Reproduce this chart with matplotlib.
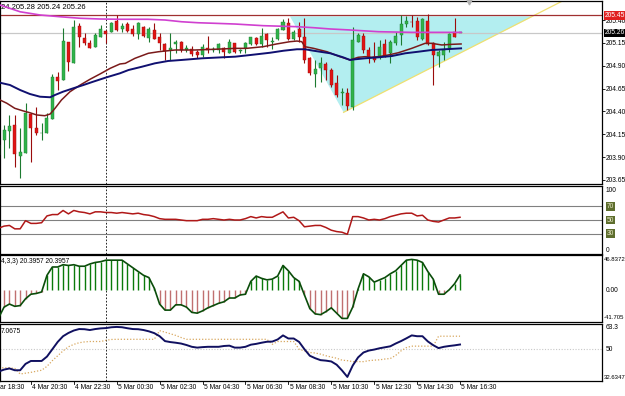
import matplotlib
matplotlib.use('Agg')
import matplotlib.pyplot as plt
import matplotlib.transforms as mtransforms
import numpy as np
import pandas as pd

plt.rcParams['font.family'] = ['Liberation Sans Narrow', 'Liberation Sans', 'DejaVu Sans']
plt.rcParams['font.size'] = 5

# 15 minute bars, 4 Mar 19:00 .. 5 Mar 16:30
times = pd.date_range('2015-03-04 19:00', periods=87, freq='15min')

opens = [203.92, 204.09, 204.19, 204.25, 203.91, 203.95, 204.37, 204.22, 204.16, 204.16,
         204.32, 204.78, 204.74, 205.16, 204.93, 205.33, 205.20, 205.15, 205.10, 205.21,
         205.28, 205.27, 205.39, 205.30, 205.36, 205.30, 205.25, 205.32, 205.20, 205.29,
         205.21, 205.14, 205.07, 205.14, 205.16, 205.07, 205.08, 205.05, 205.02, 205.09,
         205.07, 205.07, 205.09, 205.04, 205.15, 205.06, 205.09, 205.14, 205.20, 205.14,
         205.25, 205.16, 205.19, 205.29, 205.37, 205.19, 205.30, 205.21, 204.98, 204.81,
         204.875, 204.92, 204.85, 204.71, 204.60, 204.60, 204.45, 205.16, 205.23, 205.07,
         205.00, 204.995, 205.14, 205.04, 205.15, 205.24, 205.36, 205.38, 205.39, 205.19,
         205.39, 205.15, 205.01, 205.02, 205.09, 205.27, 205.26]
highs = [204.09, 204.25, 204.36, 204.36, 204.22, 204.49, 204.38, 204.45, 204.27, 204.38,
         204.81, 204.83, 205.31, 205.16, 205.40, 205.37, 205.26, 205.18, 205.26, 205.35,
         205.29, 205.38, 205.45, 205.37, 205.38, 205.35, 205.38, 205.33, 205.32, 205.37,
         205.26, 205.15, 205.26, 205.18, 205.17, 205.13, 205.12, 205.07, 205.14, 205.22,
         205.11, 205.15, 205.11, 205.19, 205.15, 205.08, 205.16, 205.21, 205.21, 205.31,
         205.26, 205.21, 205.31, 205.41, 205.42, 205.29, 205.38, 205.42, 204.995, 204.96,
         204.995, 204.94, 204.875, 204.80, 204.66, 204.66, 205.32, 205.26, 205.26, 205.10,
         205.16, 205.18, 205.19, 205.18, 205.27, 205.455, 205.44, 205.455, 205.43, 205.42,
         205.47, 205.16, 205.07, 205.16, 205.26, 205.42, 205.26]
lows = [203.79, 203.89, 204.00, 203.79, 203.67, 203.95, 203.85, 204.14, 204.09, 204.16,
        204.32, 204.63, 204.74, 204.84, 204.93, 205.10, 205.13, 205.09, 205.10, 205.21,
        205.15, 205.27, 205.28, 205.27, 205.27, 205.23, 205.19, 205.21, 205.16, 205.19,
        205.07, 204.96, 204.96, 205.04, 205.05, 205.05, 205.01, 204.98, 205.00, 205.04,
        205.05, 205.04, 204.98, 205.04, 205.04, 205.04, 205.04, 205.13, 205.13, 205.11,
        205.11, 205.08, 205.18, 205.29, 205.18, 205.18, 205.16, 204.93, 204.80, 204.67,
        204.72, 204.74, 204.67, 204.56, 204.47, 204.42, 204.42, 205.16, 205.04, 204.93,
        204.94, 204.97, 204.995, 204.93, 205.13, 205.13, 205.32, 205.32, 205.18, 205.18,
        205.13, 204.69, 204.89, 204.96, 205.05, 205.21, 205.26]
closes = [204.03, 204.20, 204.24, 203.93, 203.96, 204.38, 204.22, 204.16, 204.165, 204.33,
          204.78, 204.73, 205.17, 204.94, 205.32, 205.21, 205.15, 205.09, 205.24, 205.30,
          205.25, 205.37, 205.29, 205.33, 205.28, 205.25, 205.37, 205.23, 205.30, 205.19,
          205.15, 205.06, 205.09, 205.16, 205.07, 205.09, 205.03, 205.02, 205.11, 205.07,
          205.075, 205.14, 205.05, 205.16, 205.05, 205.065, 205.15, 205.21, 205.14, 205.23,
          205.18, 205.165, 205.30, 205.38, 205.19, 205.27, 205.21, 204.96, 204.82, 204.86,
          204.93, 204.85, 204.69, 204.58, 204.61, 204.46, 205.18, 205.24, 205.07, 205.00,
          204.96, 205.105, 205.01, 205.16, 205.225, 205.36, 205.39, 205.375, 205.21, 205.41,
          205.14, 205.02, 205.05, 205.07, 205.25, 205.21, 205.26]

# moving averages (bar index, price)
ma_fast_x = [0.24, 1.5, 3.0, 4.6, 5.8, 7.1, 8.6, 9.6, 10.5, 11.7, 13.3, 15.2, 17.0, 18.9, 20.8,
             22.6, 23.6, 25.4, 27.9, 29.8, 32.9, 36.6, 40.3, 44.1, 46.2, 49.3, 51.8, 54.3, 55.6,
             56.5, 57.1, 58.7, 61.2, 63.6, 65.5, 67.0, 68.3, 69.5, 70.8, 72.6, 74.5, 77.0, 79.5,
             80.7, 82.6, 84.5, 86.2]
ma_fast_y = [204.525, 204.49, 204.434, 204.405, 204.386, 204.361, 204.353, 204.372, 204.434,
             204.525, 204.616, 204.689, 204.751, 204.81, 204.872, 204.919, 204.926, 204.981,
             205.036, 205.053, 205.072, 205.072, 205.08, 205.09, 205.09, 205.108, 205.138,
             205.163, 205.17, 205.163, 205.108, 205.09, 205.053, 204.999, 204.963, 204.992,
             204.999, 204.992, 204.999, 205.017, 205.042, 205.09, 205.145, 205.145, 205.127,
             205.134, 205.138]
ma_slow_x = [0.24, 2.1, 4.0, 5.8, 7.7, 9.6, 10.5, 12.0, 13.9, 15.8, 17.6, 20.1, 22.6, 24.2,
             26.7, 29.1, 31.6, 34.1, 37.9, 41.6, 44.1, 46.9, 50.6, 53.1, 55.6, 57.1, 58.7,
             61.8, 64.2, 65.5, 66.4, 68.3, 70.8, 73.3, 75.8, 78.2, 80.7, 83.2, 86.2]
ma_slow_y = [204.714, 204.689, 204.634, 204.591, 204.561, 204.555, 204.58, 204.616, 204.653,
             204.689, 204.725, 204.773, 204.817, 204.853, 204.889, 204.926, 204.952, 204.963,
             204.981, 204.992, 204.999, 205.017, 205.042, 205.064, 205.08, 205.08, 205.064,
             205.036, 204.992, 204.963, 204.97, 204.981, 204.992, 205.006, 205.036, 205.053,
             205.072, 205.08, 205.09]
ma_long_x = [0.24, 4.0, 7.7, 11.4, 15.2, 18.9, 22.6, 27.8, 31.0, 34.1, 37.2, 40.3, 44.1, 49.3,
             55.6, 58.7, 61.8, 65.5, 70.8, 77.0, 83.2, 86.2]
ma_long_y = [205.564, 205.49, 205.455, 205.436, 205.419, 205.411, 205.408, 205.408, 205.40,
             205.381, 205.37, 205.364, 205.356, 205.338, 205.327, 205.316, 205.302, 205.291,
             205.272, 205.265, 205.265, 205.265]

resistance = 205.45
bid = 205.26
# triangle object and trend line anchors (bar index, price)
tri_x = [54.3, 64.3, 99.6]
tri_y = [205.44, 204.39, 205.44]
trend_x = [64.3, 105.5]
trend_y = [204.39, 205.62]

rsi = [38, 41, 42, 37, 37, 49, 45, 45, 46, 56,
       58, 58, 64, 59, 64, 62, 61, 59, 62, 62,
       61, 61, 60, 61, 60, 59, 60, 58, 57, 55,
       52, 51, 51, 51, 50, 49, 49, 49, 51, 51,
       52, 51, 50, 51, 50, 50, 52, 55, 53, 55,
       54, 54, 58, 62, 53, 54, 49, 40, 41, 42,
       42, 39, 35, 33, 32, 29, 55, 55, 53, 50,
       51, 50, 52, 55, 57, 59, 60, 60, 56, 57,
       50, 48, 47, 50, 53, 53, 54]
rsi_levels = [70, 50, 30]

osma = [-36, -22, -18, -21, -20, -11, -5, -4, -2, 20,
        31, 31, 34, 33, 34, 32, 32, 35, 37, 38,
        40, 40, 40, 40, 35, 30, 25, 20, 17, 3,
        -18, -26, -26, -19, -19, -22, -29, -30, -27, -23,
        -20, -17, -15, -10, -10, -6, -5, 12, 19, 16,
        14, 15, 19, 33, 26, 17, 12, -6, -24, -31,
        -32, -28, -23, -30, -37, -37, -22, 2, 22, 18,
        11, 14, 17, 22, 26, 33, 40, 41, 40, 37,
        25, 15, -5, -5, 1, 9, 20.3957]
osma_max, osma_min = 46.8372, -41.705

stoch = [36.3, 37.5, 38.2, 37.1, 37.1, 41, 42.8, 42.8, 42.8, 45.5,
         50, 54.5, 58, 60, 61.5, 62.4, 62.3, 61.8, 62.4, 62.8,
         63, 63.5, 63.7, 63.5, 62.9, 62.4, 62.3, 61.8, 61, 59.9,
         58, 55, 54.4, 54, 53.5, 52.6, 51.5, 51, 51.3, 51.5,
         51.5, 51.5, 52, 52.2, 51, 51, 51.5, 52.8, 53.3, 54,
         54.6, 54.7, 56, 58.5, 56.6, 56.6, 54.5, 50, 46, 44.5,
         43.3, 43, 42.5, 40.5, 37, 33, 40, 45, 48, 49.2,
         49.8, 50.6, 51.2, 51.8, 53.5, 55, 56.7, 58.5, 58, 58,
         54.8, 52.5, 50.7, 51.5, 52, 52.4, 52.9]
stoch_sig = [38.6, 38.6, 38.6, 38.2, 34.8, 35.3, 35.8, 36.5, 37.1, 39.5,
             43, 46, 49, 51.5, 53, 54, 54.5, 54.75, 54.75, 54.75,
             55.5, 56, 56.1, 56.1, 56.1, 56.1, 56.1, 56.1, 56.1, 56.1,
             61.4, 60.5, 59.5, 58.5, 57.2, 56.1, 56.1, 56.1, 56.1, 56.1,
             56.1, 56.1, 56.1, 56.1, 56.1, 56.1, 56.1, 56.1, 56.1, 56.1,
             56.1, 53, 54.75, 54.75, 54.75, 54.75, 50, 49, 48, 47.7,
             47, 46, 45.2, 44.5, 43.3, 43, 42.4, 42.4, 42.4, 43,
             43.3, 43.5, 44, 44.3, 46.2, 49, 51, 51.9, 51.9, 51.9,
             51.9, 51.9, 58, 58, 58, 58, 58]

label_times = pd.date_range('2015-03-04 18:30', '2015-03-05 16:30', freq='2h')
day_sep = pd.Timestamp('2015-03-05 00:00')

W, H = 625, 396
fig = plt.figure(figsize=(W / 100, H / 100), dpi=100)
fig.patch.set_facecolor('white')


def rect(top, bottom):
    return [0, (H - bottom) / H, 602 / W, (bottom - top) / H]


ax = fig.add_axes(rect(1, 184))
ax_rsi = fig.add_axes(rect(186, 254))
ax_osc = fig.add_axes(rect(255, 322))
ax_sto = fig.add_axes(rect(324, 381))
axes = [ax, ax_rsi, ax_osc, ax_sto]

bar_w = 15 * 60  # seconds


def bar_index(t):
    return (t - times[0]).total_seconds() / bar_w


xmin, xmax = 0.242, 112.47
for a in axes:
    a.set_xlim(xmin, xmax)
    a.set_xticks([])
    a.set_yticks([])
    for s in a.spines.values():
        s.set_color('black')
        s.set_linewidth(0.9)
    a.axvline(bar_index(day_sep), color='black', ls=(0, (2, 2)), lw=0.6, zorder=1)

x = np.arange(len(opens))
fs = 4.8
fs_small = 4.3

# ---- main price window
o, h, l, c = map(np.array, (opens, highs, lows, closes))
up = c >= o
body_col = np.where(up, '#2fb34a', '#e01414')
edge_col = np.where(up, '#1d7a30', '#9a0c0c')
ax.fill(tri_x, tri_y, color='#b3eef0', lw=0, zorder=0)
ax.plot(trend_x, trend_y, color='#f0e070', lw=0.9, zorder=1)
ax.axhline(resistance, color='#a03030', lw=0.9, zorder=1)
ax.axhline(bid, color='#c8c8c8', lw=0.9, zorder=1)
ax.vlines(x, l, h, colors=edge_col, lw=0.8, zorder=2)
ax.bar(x, np.maximum(np.abs(c - o), 0.008), bottom=np.minimum(o, c), width=0.56,
       color=body_col, edgecolor=edge_col, lw=0.3, zorder=3)
ax.plot(ma_long_x, ma_long_y, color='#d040d0', lw=1.2, zorder=4)
ax.plot(ma_fast_x, ma_fast_y, color='#7a1a1a', lw=1.1, zorder=4)
ax.plot(ma_slow_x, ma_slow_y, color='#101070', lw=1.4, zorder=4)
ax.set_ylim(203.606, 205.608)
ax.yaxis.tick_right()
ax.set_yticks([203.65, 203.90, 204.15, 204.40, 204.65, 204.90, 205.15, 205.40])
ax.set_yticklabels(['%.2f' % v for v in ax.get_yticks()])
ax.tick_params(axis='y', length=2, width=0.6, pad=1, labelsize=fs)
ax.text(0.001, 0.965, '24 205.28 205.24 205.26', transform=ax.transAxes, fontsize=5.5,
        va='center', ha='left')
ax.plot([bar_index(times[-1]) + 1.6], [205.595], marker='v', color='#b0b0b0', ms=3.5,
        clip_on=False, zorder=5)

mix = mtransforms.blended_transform_factory
ax.text(1.004, resistance, '205.45', transform=mix(ax.transAxes, ax.transData), color='white',
        fontsize=fs, va='center', ha='left',
        bbox=dict(facecolor='#e02020', edgecolor='none', pad=0.6), zorder=6)
ax.text(1.004, bid, '205.26', transform=mix(ax.transAxes, ax.transData), color='white',
        fontsize=fs, va='center', ha='left',
        bbox=dict(facecolor='black', edgecolor='none', pad=0.6), zorder=6)

# ---- RSI window
ax_rsi.set_ylim(0, 100)
for lv in rsi_levels:
    ax_rsi.axhline(lv, color='#808080', lw=0.8, zorder=1)
ax_rsi.plot(x, rsi, color='#b01818', lw=1.1, zorder=3)
tr = mix(ax_rsi.transAxes, ax_rsi.transData)
ax_rsi.text(1.006, 94, '100', transform=tr, va='center', ha='left', fontsize=fs)
ax_rsi.text(1.006, 5, '0', transform=tr, va='center', ha='left', fontsize=fs)
for lv in rsi_levels:
    ax_rsi.text(1.008, lv, str(lv), transform=tr, va='center', ha='left', fontsize=fs,
                color='#e8e8c8', bbox=dict(facecolor='#5e6e2e', edgecolor='none', pad=0.5))

# ---- oscillator histogram window
osma_a = np.array(osma)
pos = osma_a >= 0
ax_osc.vlines(x[pos], 0, osma_a[pos], colors='#0a7a0a', lw=1.0, zorder=2)
ax_osc.vlines(x[~pos], 0, osma_a[~pos], colors='#c07070', lw=1.0, zorder=2)
ax_osc.plot(x, osma_a, color='#0b4d0b', lw=1.2, zorder=3)
ax_osc.set_ylim(osma_min, osma_max)
ax_osc.text(0.001, 0.9, '4,3,3) 20.3957 20.3957', transform=ax_osc.transAxes, fontsize=fs,
            va='center', ha='left')
tr = mix(ax_osc.transAxes, ax_osc.transData)
ax_osc.text(1.003, osma_max - 3, '46.8372', transform=tr, va='top', ha='left',
            fontsize=fs_small)
ax_osc.text(1.006, 0, '0.00', transform=tr, va='center', ha='left', fontsize=fs)
ax_osc.text(1.003, osma_min + 2, '-41.705', transform=tr, va='bottom', ha='left',
            fontsize=fs_small)

# ---- stochastic window
ax_sto.set_ylim(30.5, 65.5)
ax_sto.axhline(50, color='#c8c8c8', ls=(0, (1, 1.5)), lw=0.8, zorder=1)
ax_sto.plot(x, stoch_sig, color='#d8a860', ls=(0, (1, 1.5)), lw=0.9, zorder=2)
ax_sto.plot(x, stoch, color='#101060', lw=1.4, zorder=3)
ax_sto.text(0.002, 0.86, '7.0675', transform=ax_sto.transAxes, fontsize=fs, va='center',
            ha='left')
tr = mix(ax_sto.transAxes, ax_sto.transData)
ax_sto.text(1.006, 63.3, '63.3', transform=tr, va='center', ha='left', fontsize=fs)
ax_sto.text(1.006, 50, '50', transform=tr, va='center', ha='left', fontsize=fs)
ax_sto.text(1.003, 32.6347, '32.6347', transform=tr, va='center', ha='left',
            fontsize=fs_small)

# time axis labels
tr = mix(ax_sto.transData, ax_sto.transAxes)
for t in label_times:
    xi = bar_index(t)
    ax_sto.plot([xi, xi], [0, -0.05], color='black', lw=0.6, transform=tr, clip_on=False)
    ax_sto.text(xi + 0.25, -0.06, f'{t.day} {t:%b %H:%M}', transform=tr, fontsize=fs,
                va='top', ha='left', clip_on=False)

fig.savefig('out.png', dpi=100, facecolor='white')
